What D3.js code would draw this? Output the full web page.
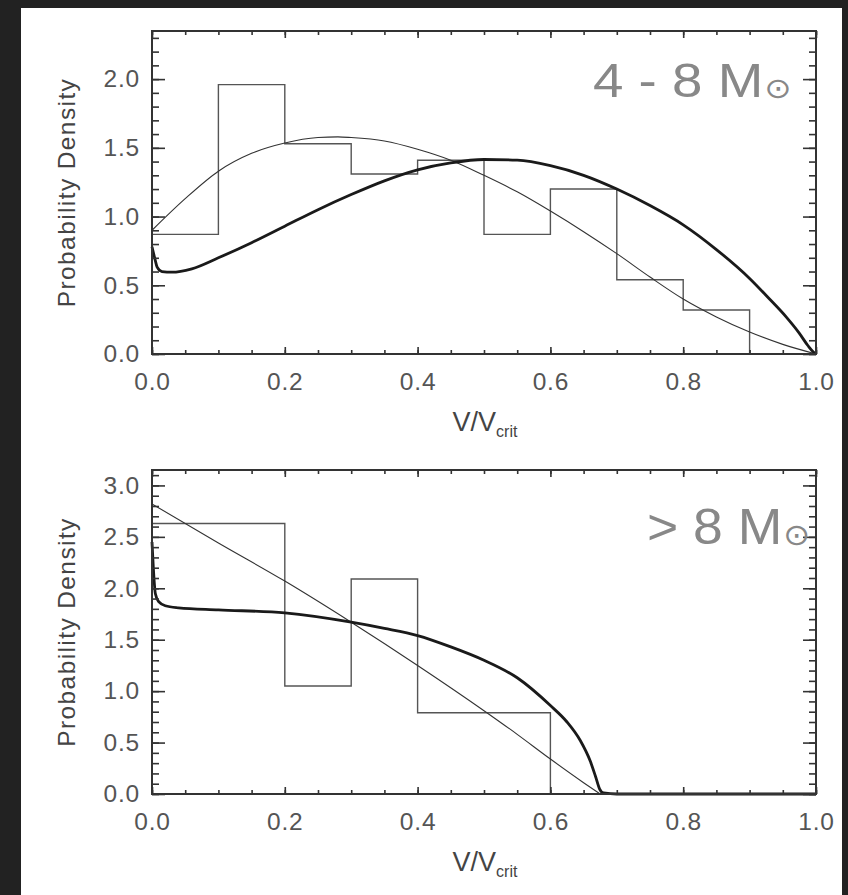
<!DOCTYPE html>
<html>
<head>
<meta charset="utf-8">
<script src="https://cdn.jsdelivr.net/npm/d3@7"></script>
<style>
  html, body { margin: 0; padding: 0; background: #222; }
  svg { display: block; }
  text { font-family: "Liberation Sans", Arial, Helvetica, sans-serif; }
</style>
</head>
<body>
<svg id="chart" width="848" height="895"></svg>
<script>
// ---- data: 4 - 8 Msun ----
const histEdgesA = [0.0, 0.1, 0.2, 0.3, 0.4, 0.5, 0.6, 0.7, 0.8, 0.9];
const histValsA  = [0.87, 1.96, 1.53, 1.31, 1.41, 0.87, 1.20, 0.54, 0.32];
const histEndA   = 0.9;
const thinXA = [0, 0.05, 0.1, 0.15, 0.2, 0.25, 0.28, 0.3, 0.35, 0.4, 0.45, 0.5, 0.55, 0.6, 0.65, 0.7, 0.75, 0.8, 0.85, 0.9, 0.95, 1.0];
const thinYA = [0.9, 1.13, 1.33, 1.46, 1.535, 1.575, 1.58, 1.575, 1.55, 1.49, 1.41, 1.30, 1.18, 1.04, 0.89, 0.73, 0.56, 0.40, 0.27, 0.16, 0.07, 0.0];
const thickXA = [0, 0.004, 0.008, 0.015, 0.03, 0.06, 0.1, 0.15, 0.2, 0.25, 0.3, 0.35, 0.4, 0.45, 0.5, 0.55, 0.6, 0.65, 0.7, 0.75, 0.8, 0.85, 0.9, 0.93, 0.955, 0.975, 0.988, 0.996, 1.0];
const thickYA = [0.78, 0.70, 0.63, 0.60, 0.595, 0.62, 0.70, 0.81, 0.93, 1.05, 1.16, 1.26, 1.34, 1.39, 1.415, 1.41, 1.37, 1.30, 1.20, 1.08, 0.94, 0.76, 0.55, 0.40, 0.27, 0.15, 0.06, 0.015, 0.0];

// ---- data: > 8 Msun ----
const histEdgesB = [0.0, 0.2, 0.3, 0.4];
const histValsB  = [2.63, 1.05, 2.09, 0.79];
const histEndB   = 0.6;
const thinXB = [0, 0.1, 0.2, 0.3, 0.4, 0.5, 0.55, 0.6, 0.65, 0.675];
const thinYB = [2.82, 2.44, 2.07, 1.67, 1.25, 0.81, 0.58, 0.34, 0.11, 0.0];
const thickXB = [0, 0.002, 0.005, 0.01, 0.02, 0.04, 0.1, 0.2, 0.3, 0.35, 0.4, 0.45, 0.5, 0.55, 0.6, 0.625, 0.645, 0.66, 0.668, 0.674, 0.68, 0.7, 1.0];
const thickYB = [2.45, 2.2, 1.95, 1.87, 1.83, 1.81, 1.79, 1.76, 1.67, 1.61, 1.54, 1.43, 1.30, 1.13, 0.86, 0.70, 0.52, 0.32, 0.17, 0.05, 0.01, 0.0, 0.0];

const xTickVals = [0.0, 0.2, 0.4, 0.6, 0.8, 1.0];
const yTickValsA = [0.0, 0.5, 1.0, 1.5, 2.0];
const yTickValsB = [0.0, 0.5, 1.0, 1.5, 2.0, 2.5, 3.0];
const yMaxA = 2.35, yMaxB = 3.15;
const yLabel = "Probability Density";
const titleA = "4 - 8 M", titleB = "> 8 M";

const svg = d3.select("#chart");
svg.append("rect").attr("width", 848).attr("height", 895).attr("fill", "#222");
svg.append("rect").attr("x", 21).attr("y", 8).attr("width", 821).attr("height", 887).attr("fill", "#fff");

const x = d3.scaleLinear().domain([0, 1]).range([152, 816]);

function panel(cfg) {
  const y = d3.scaleLinear().domain([0, cfg.ymax]).range([cfg.bottom, cfg.top]);
  const g = svg.append("g");
  const xMinor = d3.range(0, 1.0001, 0.05);
  const yMinor = d3.range(0, cfg.ymax, 0.1);

  // histogram as a stepped outline
  const pts = [[cfg.edges[0], 0]];
  cfg.vals.forEach((v, i) => {
    const x0 = cfg.edges[i];
    const x1 = i + 1 < cfg.edges.length ? cfg.edges[i + 1] : cfg.end;
    pts.push([x0, v], [x1, v]);
  });
  pts.push([cfg.end, 0]);
  g.append("path")
    .attr("d", d3.line().x(d => x(d[0])).y(d => y(d[1]))(pts))
    .attr("fill", "none").attr("stroke", "#555").attr("stroke-width", 1.4);

  const line = d3.line().x(d => x(d[0])).y(d => y(d[1])).curve(d3.curveMonotoneX);
  g.append("path").attr("d", line(cfg.thinX.map((v, i) => [v, cfg.thinY[i]])))
    .attr("fill", "none").attr("stroke", "#333").attr("stroke-width", 1.1);
  g.append("path").attr("d", line(cfg.thickX.map((v, i) => [v, cfg.thickY[i]])))
    .attr("fill", "none").attr("stroke", "#1a1a1a").attr("stroke-width", 2.8);

  // axes: ticks point inward on all four sides
  const axStroke = "#333";
  function style(sel) {
    sel.select(".domain").remove();
    sel.selectAll(".tick line").attr("stroke", axStroke).attr("stroke-width", 1.6);
    sel.selectAll(".tick text").attr("fill", "#555").attr("font-size", 24.5)
      .attr("letter-spacing", 0.8);
  }
  const fmt = d3.format(".1f");
  g.append("g").attr("transform", `translate(0,${cfg.bottom})`)
    .call(d3.axisBottom(x).tickValues(xMinor).tickSize(-4).tickFormat("")).call(style);
  g.append("g").attr("transform", `translate(0,${cfg.bottom})`)
    .call(d3.axisBottom(x).tickValues(xTickVals).tickSize(-7).tickPadding(19).tickFormat(fmt)).call(style);
  g.append("g").attr("transform", `translate(0,${cfg.top})`)
    .call(d3.axisTop(x).tickValues(xMinor).tickSize(-4).tickFormat("")).call(style);
  g.append("g").attr("transform", `translate(0,${cfg.top})`)
    .call(d3.axisTop(x).tickValues(xTickVals).tickSize(-7).tickFormat("")).call(style);
  g.append("g").attr("transform", `translate(152,0)`)
    .call(d3.axisLeft(y).tickValues(yMinor).tickSize(-7).tickFormat("")).call(style);
  g.append("g").attr("transform", `translate(152,0)`)
    .call(d3.axisLeft(y).tickValues(cfg.yTicks).tickSize(-13).tickPadding(12).tickFormat(fmt)).call(style);
  g.append("g").attr("transform", `translate(816,0)`)
    .call(d3.axisRight(y).tickValues(yMinor).tickSize(-7).tickFormat("")).call(style);
  g.append("g").attr("transform", `translate(816,0)`)
    .call(d3.axisRight(y).tickValues(cfg.yTicks).tickSize(-13).tickFormat("")).call(style);

  g.append("rect").attr("x", 152).attr("y", cfg.top).attr("width", 664).attr("height", cfg.bottom - cfg.top)
    .attr("fill", "none").attr("stroke", axStroke).attr("stroke-width", 2);

  // y-axis label
  g.append("text")
    .attr("transform", `translate(75,${(cfg.top + cfg.bottom) / 2}) rotate(-90)`)
    .attr("text-anchor", "middle").attr("font-size", 24.5).attr("letter-spacing", 1.4)
    .attr("fill", "#444").text(yLabel);

  // x-axis label V/V_crit
  const xl = g.append("text").attr("x", 485).attr("y", cfg.bottom + 77)
    .attr("text-anchor", "middle").attr("fill", "#444").attr("font-size", 27);
  xl.append("tspan").text("V/V");
  xl.append("tspan").attr("font-size", 16).attr("dy", 6).text("crit");

  // mass-range title
  const t = g.append("text")
    .attr("transform", `translate(${cfg.tx},${cfg.ty}) scale(${cfg.tsx},1)`)
    .attr("fill", "#888").attr("font-size", cfg.tsize);
  t.append("tspan").text(cfg.title);
  t.append("tspan").attr("font-family", "DejaVu Sans").attr("font-size", cfg.tsize * 0.6)
    .attr("dx", 1).attr("dy", 1).text("\u2299");
}

panel({ top: 31, bottom: 354, ymax: yMaxA, yTicks: yTickValsA,
  edges: histEdgesA, vals: histValsA, end: histEndA,
  thinX: thinXA, thinY: thinYA, thickX: thickXA, thickY: thickYA,
  title: titleA, tx: 593, ty: 97, tsize: 48, tsx: 1.14 });
panel({ top: 470, bottom: 794, ymax: yMaxB, yTicks: yTickValsB,
  edges: histEdgesB, vals: histValsB, end: histEndB,
  thinX: thinXB, thinY: thinYB, thickX: thickXB, thickY: thickYB,
  title: titleB, tx: 647, ty: 544, tsize: 50, tsx: 1.07 });
</script>
</body>
</html>
